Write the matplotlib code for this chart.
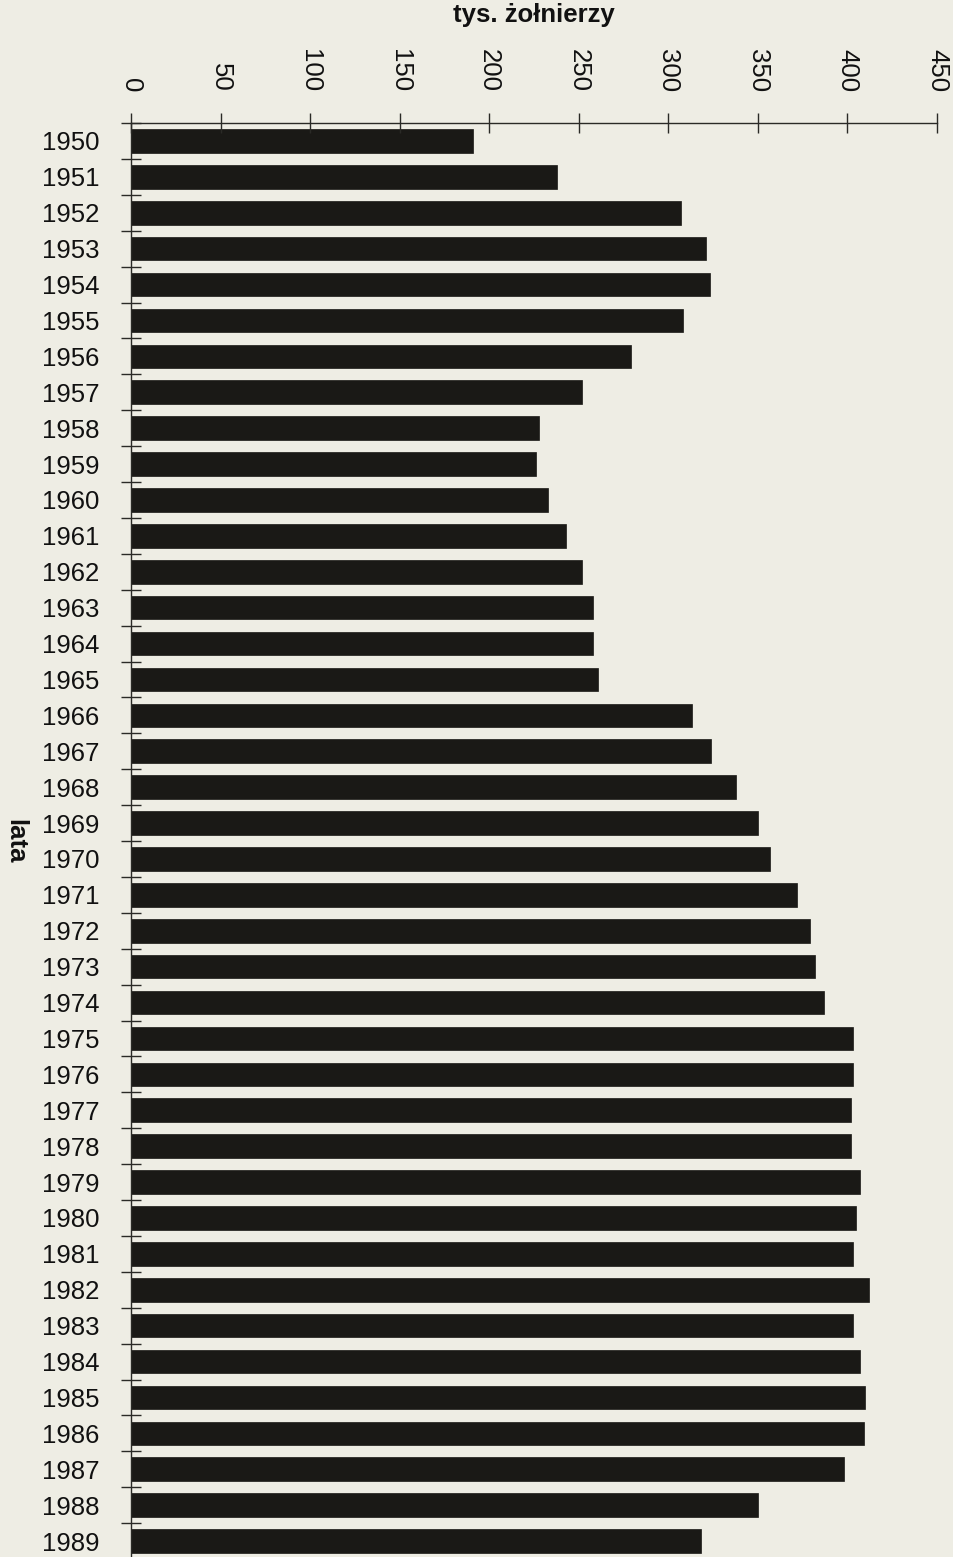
import numpy as np
import matplotlib.pyplot as plt
from matplotlib.ticker import FixedLocator

# data (thousands of soldiers per year)
years = list(range(1950, 1990))
soldiers = [191, 238, 307, 321, 323, 308, 279, 252, 228, 226,
            233, 243, 252, 258, 258, 261, 313, 324, 338, 350,
            357, 372, 379, 382, 387, 403, 403, 402, 402, 407,
            405, 403, 412, 403, 407, 410, 409, 398, 350, 318]
x_ticks = [0, 50, 100, 150, 200, 250, 300, 350, 400, 450]

paper = '#eeede4'
ink = '#1a1916'
text_ink = '#111111'

plt.rcParams['font.family'] = ['Liberation Sans', 'DejaVu Sans']

fig = plt.figure(figsize=(9.54, 15.57), dpi=100, facecolor=paper)
W, H = 954, 1557
left, right, top, bottom = 131, 937, 123, 1559
ax = fig.add_axes([left / W, (H - bottom) / H, (right - left) / W, (bottom - top) / H])
ax.set_facecolor(paper)

pos = np.arange(len(years))
ax.barh(pos, soldiers, height=0.66, color=ink, edgecolor=ink, linewidth=0.5)

ax.set_xlim(0, 450)
ax.set_ylim(len(years) - 0.5, -0.5)

# x axis on top
ax.xaxis.tick_top()
ax.set_xticks(x_ticks)
ax.set_xticklabels([str(v) for v in x_ticks], rotation=-90, fontsize=18.5, color=text_ink)
ax.tick_params(axis='x', direction='inout', length=14.4, width=1.0, pad=15, colors='#2a2a26')
for lbl in ax.get_xticklabels():
    lbl.set_color(text_ink)

# y axis: labels at centres, ticks at boundaries
ax.set_yticks(pos)
ax.set_yticklabels([str(y) for y in years], fontsize=18.5, color=text_ink)
ax.tick_params(axis='y', which='major', length=0, pad=23)
ax.yaxis.set_minor_locator(FixedLocator(np.arange(-0.5, len(years), 1.0)))
ax.tick_params(axis='y', which='minor', direction='inout', length=14.4, width=1.0, colors='#2a2a26')

for s in ['right', 'bottom']:
    ax.spines[s].set_visible(False)
for s in ['top', 'left']:
    ax.spines[s].set_color('#2a2a26')
    ax.spines[s].set_linewidth(1.0)

ax.set_xlabel('tys. żołnierzy', fontsize=18.5, fontweight='bold', color=text_ink, va='center')
ax.xaxis.set_label_position('top')
ax.xaxis.set_label_coords(0.5, (bottom - 22) / (bottom - top))

ax.set_ylabel('lata', fontsize=18.5, fontweight='bold', color=text_ink, rotation=-90, va='center', ha='center')
ax.yaxis.set_label_coords((15 - left) / (right - left), 0.5)

fig.savefig('out.png', dpi=100, facecolor=paper)
